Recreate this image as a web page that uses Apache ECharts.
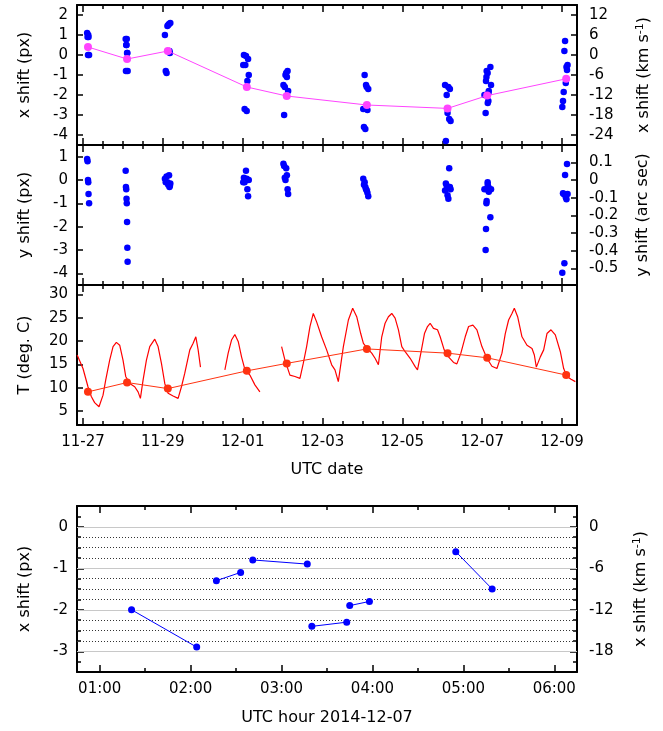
<!DOCTYPE html>
<html><head><meta charset="utf-8">
<script src="https://cdn.jsdelivr.net/npm/echarts@6/dist/echarts.min.js"></script>
<style>html,body{margin:0;padding:0;background:#fff}#c{width:663px;height:731px}</style>
</head><body><div id="c"></div><script>
// ---------------- data (times are UTC, year 2014, 'MM-DD HH:mm') ----------------
const obsTime = [
 '11-27 02:30','11-27 02:45','11-27 03:00','11-27 03:10','11-27 03:20','11-27 03:40',
 '11-28 01:40','11-28 01:50','11-28 02:00','11-28 02:10','11-28 02:20','11-28 02:30','11-28 02:40','11-28 02:50',
 '11-29 01:15','11-29 01:45','11-29 02:15','11-29 02:45','11-29 03:15','11-29 03:45','11-29 04:00','11-29 04:15','11-29 04:30',
 '12-01 00:20','12-01 00:45','12-01 01:10','12-01 01:35','12-01 02:00','12-01 02:25','12-01 02:50','12-01 03:15','12-01 03:40',
 '12-02 00:30','12-02 00:55','12-02 01:20','12-02 01:45','12-02 02:10','12-02 02:35','12-02 03:00','12-02 03:20',
 '12-04 00:30','12-04 00:55','12-04 01:20','12-04 01:45','12-04 02:10','12-04 02:35','12-04 03:00','12-04 03:30',
 '12-06 01:40','12-06 02:10','12-06 02:40','12-06 03:10','12-06 03:40','12-06 04:10','12-06 04:35','12-06 05:00',
 '12-07 01:21','12-07 02:04','12-07 02:17','12-07 02:33','12-07 02:41','12-07 03:17','12-07 03:20','12-07 03:43','12-07 03:45','12-07 03:58','12-07 04:55','12-07 05:19',
 '12-09 00:10','12-09 00:35','12-09 01:00','12-09 01:25','12-09 01:50','12-09 02:15','12-09 02:40','12-09 03:00','12-09 03:20'
];
const xShiftPx = [
 1.1,0.9,0.0,1.0,0.9,0.0,
 0.8,-0.8,0.5,0.5,0.8,0.1,0.1,-0.8,
 1.0,-0.8,-0.9,1.45,1.5,1.55,0.2,0.1,1.6,
 -0.5,0.0,-2.7,-0.5,-0.05,-2.8,-1.3,-0.2,-1.0,
 -1.5,-3.0,-1.6,-1.0,-0.9,-1.1,-0.8,-1.8,
 -2.7,-3.6,-1.0,-3.7,-1.5,-1.6,-2.75,-1.7,
 -1.5,-4.3,-2.0,-2.9,-1.6,-3.2,-1.7,-3.3,
 -2.0,-2.9,-1.3,-1.1,-0.8,-0.9,-2.4,-2.3,-1.9,-1.8,-0.6,-1.5,
 -2.6,-2.3,-1.85,0.2,0.7,-1.4,-0.6,-0.75,-0.5
];
const yShiftPx = [
 0.9,0.8,0.0,-0.1,-0.6,-1.0,
 0.4,-0.3,-0.4,-0.8,-1.0,-1.8,-2.9,-3.5,
 0.05,-0.1,0.15,-0.1,-0.2,0.2,-0.3,-0.25,-0.15,
 -0.1,0.1,-0.1,0.0,0.4,0.05,-0.4,-0.7,0.0,
 0.7,0.6,0.1,0.0,0.5,0.2,-0.4,-0.6,
 0.05,-0.2,-0.1,-0.3,-0.4,-0.45,-0.55,-0.7,
 -0.45,-0.15,-0.25,-0.65,-0.8,0.5,-0.3,-0.4,
 -0.4,-3.0,-2.1,-1.0,-0.9,-0.1,-0.2,-0.3,-0.45,-0.5,-1.6,-0.4,
 -3.97,-0.57,-0.6,-3.57,0.21,-0.74,-0.83,0.69,-0.6
];
const meanTime = ['11-27 03:00','11-28 02:30','11-29 03:00','12-01 02:30','12-02 02:30','12-04 02:40','12-06 03:10','12-07 03:00','12-09 02:30'];
const meanXShiftPx = [0.4,-0.2,0.2,-1.6,-2.05,-2.5,-2.67,-2.03,-1.19];
const meanTempC = [9.1,11.1,9.8,13.6,15.2,18.3,17.4,16.4,12.7];
const tempTime = [
 '11-26 20:30','11-27 00:00','11-27 03:00','11-27 05:00','11-27 07:00','11-27 09:38','11-27 10:26','11-27 12:03','11-27 13:39','11-27 16:03','11-27 18:04','11-27 20:04','11-27 22:04',
 '11-28 00:04','11-28 01:41','11-28 04:06','11-28 07:06','11-28 09:07','11-28 10:31','11-28 12:07','11-28 14:08','11-28 16:08','11-28 19:09','11-28 21:09','11-28 23:10',
 '11-29 01:10','11-29 03:10','11-29 06:11','11-29 09:11','11-29 11:12','11-29 13:12','11-29 16:13','11-29 18:13','11-29 19:50','11-29 21:14','11-29 22:38',
 '11-30 06:00',
 '11-30 13:18','11-30 15:17','11-30 17:18','11-30 19:18','11-30 21:19','11-30 23:19','12-01 01:19','12-01 04:20','12-01 07:21','12-01 10:21',
 '12-01 17:00',
 '12-01 23:24','12-02 01:25','12-02 04:25','12-02 07:25','12-02 10:26','12-02 12:26','12-02 14:27','12-02 16:27','12-02 18:27','12-02 20:28','12-02 23:28',
 '12-03 02:29','12-03 05:30','12-03 07:30','12-03 09:30','12-03 12:32','12-03 15:33','12-03 18:09','12-03 20:34','12-03 22:58',
 '12-04 00:35','12-04 02:59','12-04 05:35','12-04 07:36','12-04 09:36','12-04 11:37','12-04 13:37','12-04 15:37','12-04 17:38','12-04 19:39','12-04 21:39','12-04 23:40',
 '12-05 01:41','12-05 04:41','12-05 07:42','12-05 09:06','12-05 11:07','12-05 13:18','12-05 15:07','12-05 16:42','12-05 18:43','12-05 21:08','12-05 22:44',
 '12-06 01:09','12-06 03:45','12-06 06:46','12-06 08:47','12-06 11:11','12-06 13:48','12-06 15:49','12-06 18:25','12-06 20:50','12-06 23:50',
 '12-07 02:51','12-07 05:51','12-07 08:52','12-07 11:53','12-07 13:53','12-07 15:53','12-07 17:54','12-07 19:19','12-07 21:19','12-07 23:55',
 '12-08 02:56','12-08 05:57','12-08 07:21','12-08 08:33','12-08 10:57','12-08 12:58','12-08 14:57','12-08 17:22','12-08 19:58','12-08 22:59',
 '12-09 00:59','12-09 03:00','12-09 05:25','12-09 08:01'
];
const tempC = [
 17.0,14.1,10.2,8.1,6.8,5.9,5.6,8.4,11.6,15.9,18.8,19.7,19.1,
 15.9,12.4,10.9,10.2,9.1,7.7,11.6,15.9,18.8,20.4,18.8,15.2,
 10.9,8.8,8.2,7.7,10.2,13.1,18.1,19.5,20.9,18.1,14.4,
 null,
 13.8,17.4,20.2,21.4,19.9,16.6,13.9,12.7,10.6,9.1,
 null,
 18.8,15.9,12.7,12.4,12.0,15.2,18.8,23.1,25.9,24.1,20.9,
 18.1,14.9,13.8,11.3,18.8,24.5,27.0,25.2,21.6,
 19.5,18.4,17.4,16.3,14.9,20.9,23.8,25.2,25.9,24.9,22.4,18.8,
 17.7,16.3,14.5,13.8,17.4,21.6,23.1,23.8,22.7,22.4,20.9,
 18.1,16.6,15.4,15.1,17.4,20.9,23.1,23.4,22.4,18.8,
 16.3,14.6,14.1,17.4,21.6,24.5,25.9,27.0,25.2,20.9,
 19.1,18.4,17.0,14.4,16.6,18.1,21.6,22.4,21.3,17.7,
 14.1,12.4,11.8,11.3
];
// 2014-12-07 pairs of x-shift measurements
const segStartTime = ['01:21','02:17','02:41','03:20','03:45','04:55'];
const segEndTime   = ['02:04','02:33','03:17','03:43','03:58','05:19'];
const segStartPx   = [-2.0,-1.3,-0.8,-2.4,-1.9,-0.6];
const segEndPx     = [-2.9,-1.1,-0.9,-2.3,-1.8,-1.5];
// axis scales / tick labels
const kmsPerPx = 6;
const arcsecPerPx = 0.132;
const xShiftTicks = [-4,-3,-2,-1,0,1,2];
const kmsTicks = [-24,-18,-12,-6,0,6,12];
const yShiftTicks = [-4,-3,-2,-1,0,1];
const arcsecTicks = [-0.5,-0.4,-0.3,-0.2,-0.1,0,0.1];
const tempTicks = [5,10,15,20,25,30];
const hourPxTicks = [-3,-2,-1,0];
const hourKmsTicks = [-18,-12,-6,0];
const dateTickLabels = ['11-27','11-29','12-01','12-03','12-05','12-07','12-09'];
const hourTickLabels = ['01:00','02:00','03:00','04:00','05:00','06:00'];

// ---------------- helpers ----------------
const EPOCH = Date.UTC(2014,10,27,0,0);
function day(s){ const m=s.match(/(\d+)-(\d+) (\d+):(\d+)/); return (Date.UTC(2014,+m[1]-1,+m[2],+m[3],+m[4])-EPOCH)/864e5; }
function hour(s){ const m=s.split(':'); return +m[0] + (+m[1])/60; }
const pad=n=>String(n).padStart(2,'0');
const FONT='DejaVu Sans', BLK='#000';
const tickFont={color:BLK,fontFamily:FONT,fontSize:15};
const nameFont={color:BLK,fontFamily:FONT,fontSize:16};
const supRich={a:{fontFamily:FONT,fontSize:16,color:BLK},s:{fontFamily:FONT,fontSize:11,color:BLK,verticalAlign:'top',padding:[0,0,6,0]}};
const TW=1.5;

const L=77, R=86;
const gridsPos=[{top:5,height:140},{top:145,height:140},{top:285,height:140},{top:506,height:166}];
const grid=gridsPos.map(g=>({left:L,right:R,top:g.top,height:g.height,containLabel:false,outerBoundsMode:'none',show:false}));

const xAxis=[], yAxis=[];
function addX(gi,min,max,major,minor,label,name,gap){
  const base={type:'value',gridIndex:gi,min,max,splitLine:{show:false},nameMoveOverlap:false};
  const idx=xAxis.length;
  xAxis.push(Object.assign({},base,{position:'bottom',
    axisLine:{show:true,onZero:false,lineStyle:{color:BLK,width:2}},
    axisTick:{show:true,inside:true,length:7,customValues:major,lineStyle:{color:BLK,width:TW}},
    axisLabel:Object.assign({show:!!label,customValues:major,margin:10,formatter:label||undefined},tickFont),
    name:name||'',nameLocation:'middle',nameGap:gap||0,nameTextStyle:nameFont}));
  xAxis.push(Object.assign({},base,{position:'bottom',axisLine:{show:false,onZero:false},
    axisTick:{show:true,inside:true,length:4,customValues:minor,lineStyle:{color:BLK,width:TW}},axisLabel:{show:false}}));
  xAxis.push(Object.assign({},base,{position:'top',axisLine:{show:true,onZero:false,lineStyle:{color:BLK,width:2}},
    axisTick:{show:true,inside:true,length:7,customValues:major,lineStyle:{color:BLK,width:TW}},axisLabel:{show:false}}));
  xAxis.push(Object.assign({},base,{position:'top',axisLine:{show:false,onZero:false},
    axisTick:{show:true,inside:true,length:4,customValues:minor,lineStyle:{color:BLK,width:TW}},axisLabel:{show:false}}));
  return idx;
}
function addY(gi,pos,min,max,ticks,opt){
  opt=opt||{};
  const idx=yAxis.length;
  yAxis.push({type:'value',gridIndex:gi,position:pos,min,max,splitLine:{show:false},nameMoveOverlap:false,
    axisLine:{show:opt.noLine?false:true,onZero:false,lineStyle:{color:BLK,width:2}},
    axisTick:{show:!!ticks,inside:true,length:opt.tickLen||6,customValues:ticks||undefined,lineStyle:{color:BLK,width:TW}},
    axisLabel:Object.assign({show:!!(ticks&&!opt.noLabel),customValues:ticks||undefined,margin:pos==='left'?9:12,
      formatter:opt.fmt||(v=>String(Math.round(v*10)/10))},tickFont),
    name:opt.name||'',nameLocation:'middle',nameGap:opt.gap||0,nameRotate:90,
    nameTextStyle:opt.rich?Object.assign({rich:opt.rich},nameFont):nameFont});
  return idx;
}

// date axes (days since 2014-11-27 00:00 UTC)
const X0=day('11-26 20:24'), X1=day('12-09 09:00');
const dateMajor=dateTickLabels.map(s=>day(s+' 00:00'));
const dateMinor=[]; for(let k=0;k<=24;k++) dateMinor.push(k*0.5);
const dateFmt=v=>{const d=new Date(EPOCH+Math.round(v*864e5));return pad(d.getUTCMonth()+1)+'-'+pad(d.getUTCDate());};
// hour axis (hours of 2014-12-07 UTC)
const hourMajor=hourTickLabels.map(hour);
const hourMinor=[]; for(let k=2;k<=12;k++) hourMinor.push(k*0.5);
const hourFmt=v=>{const h=Math.floor(v+1e-6), m=Math.round((v-h)*60);return pad(h)+':'+pad(m);};
const H0=hour('00:45'), H1=hour('06:15');

const x0=addX(0,X0,X1,dateMajor,dateMinor,null);
const x1=addX(1,X0,X1,dateMajor,dateMinor,null);
const x2=addX(2,X0,X1,dateMajor,dateMinor,dateFmt,'UTC date',37);
const x3=addX(3,H0,H1,hourMajor,hourMinor,hourFmt,'UTC hour 2014-12-07',38);

const kmsName='{a|x shift (km s}{s|-1}{a|)}';
const y0=addY(0,'left',-4.5,2.5,xShiftTicks,{name:'x shift (px)',gap:44});
addY(0,'right',-4.5*kmsPerPx,2.5*kmsPerPx,kmsTicks,{name:kmsName,gap:58,rich:supRich});
const y1=addY(1,'left',-4.5,1.5,yShiftTicks,{name:'y shift (px)',gap:44});
addY(1,'right',-4.5*arcsecPerPx,1.5*arcsecPerPx,arcsecTicks,{name:'y shift (arc sec)',gap:58,fmt:v=>Math.abs(v)<1e-9?'0':v.toFixed(1)});
const y2=addY(2,'left',2,32,tempTicks,{name:'T (deg. C)',gap:44});
addY(2,'right',2,32,null,{});
const y3=addY(3,'left',-3.5,0.5,hourPxTicks,{name:'x shift (px)',gap:44,tickLen:7});
const qMinor=[]; for(let k=-13;k<=1;k++) qMinor.push(k*0.25);
addY(3,'left',-3.5,0.5,qMinor,{noLine:true,noLabel:true,tickLen:4});
addY(3,'right',-3.5*kmsPerPx,0.5*kmsPerPx,hourKmsTicks,{name:kmsName,gap:55,rich:supRich,tickLen:7});
addY(3,'right',-3.5,0.5,qMinor,{noLine:true,noLabel:true,tickLen:4});

const BLUE='#0000ff';
const series=[];
series.push({type:'scatter',xAxisIndex:x0,yAxisIndex:y0,symbolSize:6.5,itemStyle:{color:BLUE,opacity:1},z:3,
  data:obsTime.map((t,i)=>[day(t),xShiftPx[i]])});
series.push({type:'line',xAxisIndex:x0,yAxisIndex:y0,symbol:'circle',symbolSize:8,z:4,
  itemStyle:{color:'#ff44ff',opacity:1},lineStyle:{color:'#ff44ff',width:1},
  data:meanTime.map((t,i)=>[day(t),meanXShiftPx[i]])});
series.push({type:'scatter',xAxisIndex:x1,yAxisIndex:y1,symbolSize:6.5,itemStyle:{color:BLUE,opacity:1},z:3,
  data:obsTime.map((t,i)=>[day(t),yShiftPx[i]])});
series.push({type:'line',xAxisIndex:x2,yAxisIndex:y2,showSymbol:false,symbol:'none',connectNulls:false,z:3,
  lineStyle:{color:'#ff0000',width:1.2},itemStyle:{color:'#ff0000'},
  data:tempTime.map((t,i)=>[day(t),tempC[i]])});
series.push({type:'line',xAxisIndex:x2,yAxisIndex:y2,symbol:'circle',symbolSize:8,z:4,
  itemStyle:{color:'#ff3311',opacity:1},lineStyle:{color:'#ff3311',width:1},
  data:meanTime.map((t,i)=>[day(t),meanTempC[i]])});
// grid lines for bottom chart
const solid=[0,-1,-2,-3], dotted=[-0.25,-0.5,-0.75,-1.25,-1.5,-1.75,-2.25,-2.5,-2.75];
series.push({type:'line',xAxisIndex:x3,yAxisIndex:y3,data:[],z:1,
  markLine:{silent:true,symbol:['none','none'],label:{show:false},animation:false,
    data:solid.map(v=>({yAxis:v,lineStyle:{color:'#c8c8c8',width:1,type:'solid'}}))
      .concat(dotted.map(v=>({yAxis:v,lineStyle:{color:'#333',width:1,type:[1,2]}})))}});
segStartTime.forEach((s,i)=>{
  series.push({type:'line',xAxisIndex:x3,yAxisIndex:y3,symbol:'circle',symbolSize:7,z:5,
    itemStyle:{color:BLUE,opacity:1},lineStyle:{color:BLUE,width:1},
    data:[[hour(s),segStartPx[i]],[hour(segEndTime[i]),segEndPx[i]]]});
});

const chart=echarts.init(document.getElementById('c'),null,{renderer:'canvas'});
chart.setOption({animation:false,backgroundColor:'#fff',grid,xAxis,yAxis,series});
</script></body></html>
